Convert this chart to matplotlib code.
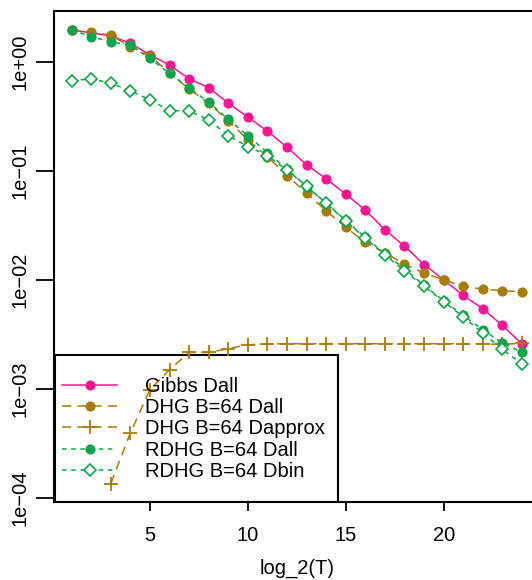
import numpy as np
import matplotlib
matplotlib.use("Agg")
import matplotlib.pyplot as plt
from matplotlib.patches import Rectangle

plt.rcParams['font.family'] = ['Liberation Sans', 'DejaVu Sans']

# log_2(T) for every run
logT = np.arange(1, 25)
logT_approx = np.arange(3, 25)

# error values (log10), one list per method
gibbs_dall = [0.294, 0.266, 0.238, 0.172, 0.064, -0.028, -0.156, -0.236, -0.379, -0.507,
              -0.636, -0.783, -0.945, -1.073, -1.214, -1.361, -1.541, -1.691, -1.860, -2.000,
              -2.144, -2.266, -2.419, -2.590]
dhg_dall = [0.294, 0.272, 0.245, 0.140, 0.058, -0.104, -0.248, -0.380, -0.540, -0.716,
            -0.869, -1.043, -1.205, -1.367, -1.520, -1.654, -1.752, -1.856, -1.939, -2.000,
            -2.061, -2.085, -2.101, -2.110]
dhg_dapprox = [-3.872, -3.406, -3.009, -2.826, -2.667, -2.667, -2.633, -2.596, -2.590, -2.587,
               -2.587, -2.587, -2.587, -2.587, -2.587, -2.587, -2.587, -2.587, -2.587, -2.590,
               -2.592, -2.585]
rdhg_dall = [0.294, 0.232, 0.183, 0.156, 0.031, -0.104, -0.241, -0.370, -0.526, -0.679,
             -0.832, -0.985, -1.144, -1.296, -1.456, -1.612, -1.762, -1.899, -2.052, -2.193,
             -2.328, -2.459, -2.581, -2.667]
rdhg_dbin = [-0.172, -0.156, -0.195, -0.266, -0.349, -0.447, -0.450, -0.532, -0.676, -0.777,
             -0.860, -0.995, -1.140, -1.300, -1.460, -1.620, -1.770, -1.920, -2.060, -2.200,
             -2.340, -2.490, -2.640, -2.770]

labels = ["Gibbs Dall", "DHG B=64 Dall", "DHG B=64 Dapprox", "RDHG B=64 Dall", "RDHG B=64 Dbin"]

pink = "#FF1493"
brown = "#A67C00"
green = "#0DA64B"

fig = plt.figure(figsize=(5.32, 5.80), dpi=100)
ax = fig.add_axes([53.6 / 532, 78 / 580, (540 - 53.6) / 532, 491 / 580])

p = lambda v: 10 ** np.array(v)

ax.plot(logT, p(gibbs_dall), color=pink, lw=1.1, marker='o', ms=6.3, label=labels[0])
ax.plot(logT, p(dhg_dall), color=brown, lw=1.1, dashes=(6, 4), marker='o', ms=6.3, label=labels[1])
ax.plot(logT_approx, p(dhg_dapprox), color=brown, lw=1.1, dashes=(6, 4), marker='+', ms=9.5,
        mew=1.3, label=labels[2])
ax.plot(logT, p(rdhg_dall), color=green, lw=1.1, dashes=(3, 3), marker='o', ms=6.3, label=labels[3])
ax.plot(logT, p(rdhg_dbin), color=green, lw=1.1, dashes=(3, 3), marker='D', ms=6.5,
        mfc='white', mew=1.2, label=labels[4])

ax.set_yscale('log')
ax.set_xlim(0.08, 24.92)
ax.set_ylim(10 ** -4.04, 10 ** 0.467)
ax.set_xticks([5, 10, 15, 20])
ax.set_yticks([1e0, 1e-1, 1e-2, 1e-3, 1e-4])
ax.set_yticklabels(["1e+00", "1e\u221201", "1e\u221202", "1e\u221203", "1e\u221204"],
                   rotation=90, va='center')
ax.minorticks_off()
ax.tick_params(axis='x', length=6.5, width=1.3, labelsize=14.5, pad=11)
ax.tick_params(axis='y', length=13, width=1.3, labelsize=14.5, pad=4)
for s in ax.spines.values():
    s.set_linewidth(1.5)
ax.set_xlabel("log_2(T)", fontsize=14.5, labelpad=10)

# legend box (transparent, lines show through)
ax.add_patch(Rectangle((0.003, 0.0), 0.582, 0.2994, transform=ax.transAxes,
                       fill=False, edgecolor='black', lw=1.5, zorder=1))
leg = ax.legend(loc='center left', bbox_to_anchor=(0.0173, 0.1487), fontsize=14.5,
                frameon=False, handlelength=2.73, handletextpad=1.39,
                labelspacing=0.12, borderpad=0, borderaxespad=0)

fig.savefig("out.png", dpi=100)
